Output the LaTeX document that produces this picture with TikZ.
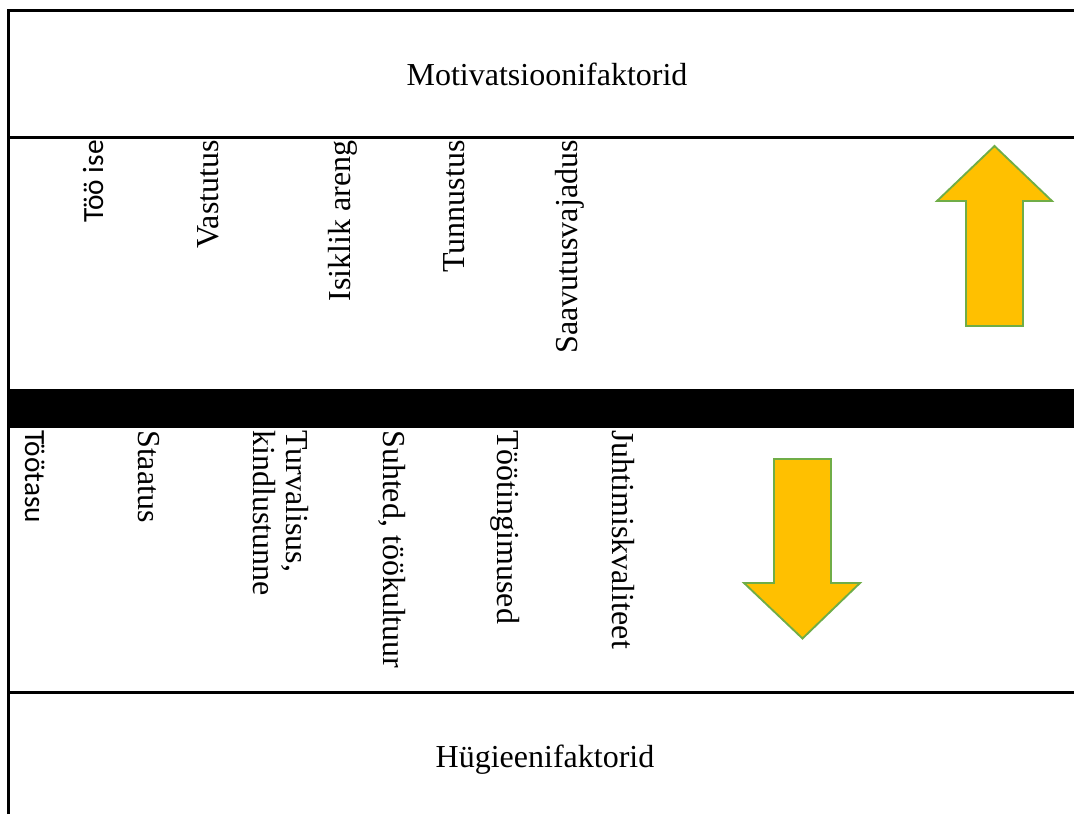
\documentclass[tikz,border=0pt]{standalone}
\usepackage{fontspec}
\setmainfont{Liberation Serif}
\newfontfamily\calibrisans{Carlito}
\usetikzlibrary{positioning}
\definecolor{arrowfill}{HTML}{FFC000}
\definecolor{arrowline}{HTML}{70AD47}

\begin{document}
\begin{tikzpicture}[
    x=0.75pt, y=-0.75pt,
    every node/.style={font=\fontsize{24}{25}\selectfont, inner sep=0pt},
    rule/.style={line width=2.25pt},
    upfactor/.style={rotate=90, anchor=base east},
    downfactor/.style={rotate=-90, anchor=base west, align=left},
    sanslabel/.style={font=\fontsize{22}{26}\selectfont\calibrisans},
    bigarrow/.style={fill=arrowfill, draw=arrowline, line width=1.4pt, line join=miter},
  ]
  \useasboundingbox (0,0) rectangle (1074,814);
  % frame and dividers
  \draw[rule] (8.5,814) -- (8.5,10.5) -- (1074,10.5);
  \draw[rule] (7.4,137.5) -- (1074,137.5);
  \fill (7.4,389) rectangle (1074,428);
  \draw[rule] (7.4,692.5) -- (1074,692.5);
  % headings
  \node[anchor=base] (motiv) at (547,85) {Motivatsioonifaktorid};
  \node[anchor=base] (hygiene) at (545,767) {Hügieenifaktorid};
  % motivation factors
  \node[upfactor, sanslabel] (tooise) at (103,140) {Töö ise};
  \node[upfactor] (vastutus) at (218,140) {Vastutus};
  \node[upfactor] (areng) at (350,140) {Isiklik areng};
  \node[upfactor] (tunnustus) at (464,140) {Tunnustus};
  \node[upfactor] (saavutus) at (577,140) {Saavutusvajadus};
  % hygiene factors
  \node[downfactor, sanslabel] (tootasu) at (25,430) {Töötasu};
  \node[downfactor] (staatus) at (138,430) {Staatus};
  \node[downfactor] (turvalisus) at (253,430) {Turvalisus,\\kindlustunne};
  \node[downfactor] (suhted) at (383,430) {Suhted, töökultuur};
  \node[downfactor] (tingimused) at (497,430) {Töötingimused};
  \node[downfactor] (juhtimine) at (612,430) {Juhtimiskvaliteet};
  % arrows
  \draw[bigarrow] (966,326) -- (966,201) -- (937,201) -- (994.5,146)
    -- (1052,201) -- (1023,201) -- (1023,326) -- cycle;
  \draw[bigarrow] (774,459) -- (831,459) -- (831,583) -- (860,583)
    -- (802.5,638.5) -- (744,583) -- (774,583) -- cycle;
\end{tikzpicture}
\end{document}
